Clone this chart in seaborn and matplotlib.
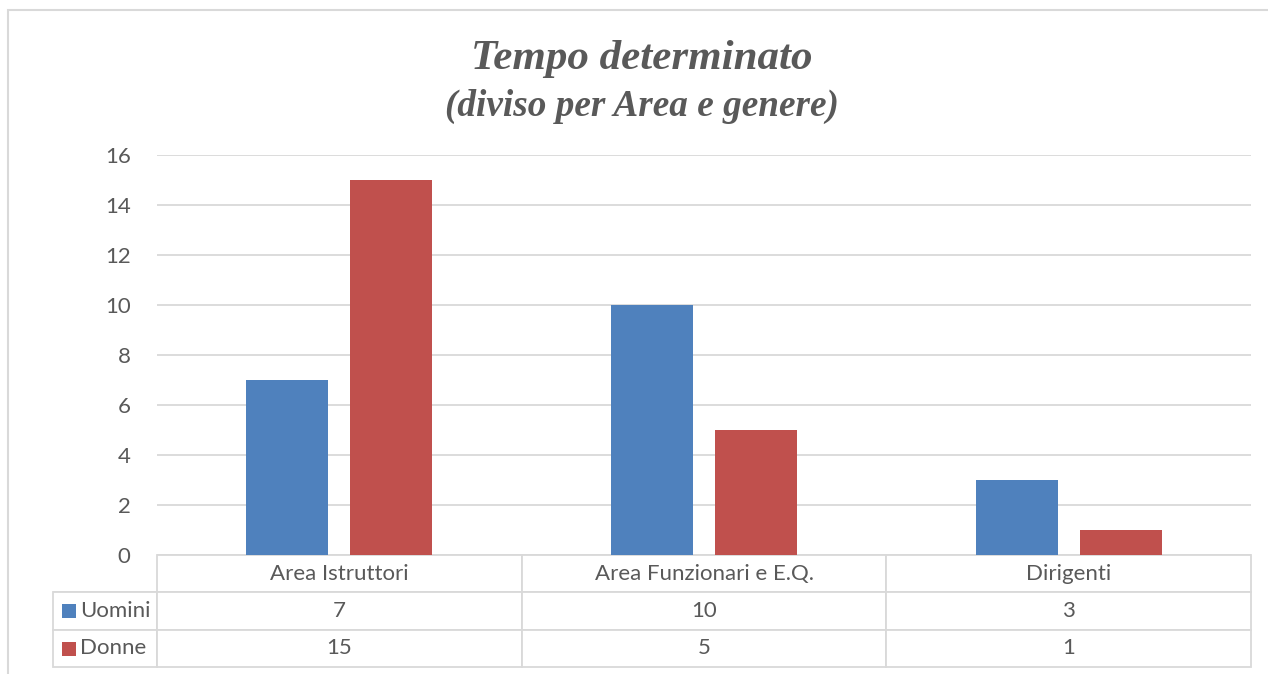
from matplotlib import pyplot as plt
from matplotlib.patches import Rectangle
import pandas as pd
import seaborn as sns

# dati del grafico
categorie = ['Area Istruttori', 'Area Funzionari e E.Q.', 'Dirigenti']
uomini = [7, 10, 3]
donne = [15, 5, 1]
serie = ['Uomini', 'Donne']
colori = ['#4F81BD', '#C0504D']
y_ticks = [0, 2, 4, 6, 8, 10, 12, 14, 16]

grigio = '#595959'
linea = '#D9D9D9'

df = pd.DataFrame({
    'area': categorie * 2,
    'genere': ['Uomini'] * len(categorie) + ['Donne'] * len(categorie),
    'valore': uomini + donne,
})

sns.set_style('white')
plt.rcParams['font.family'] = ['Lato', 'DejaVu Sans']

fig = plt.figure(figsize=(12.68, 6.74), dpi=100)
W, H = 1268, 674
ax = fig.add_axes([157 / W, 1 - 555 / H, (1251 - 157) / W, 400 / H])

sns.barplot(ax=ax, data=df, x='area', y='valore', hue='genere',
            hue_order=serie, palette=colori, width=0.57, gap=0.21,
            saturation=1, linewidth=0, legend=False)

ax.set_ylim(0, 16)
ax.set_xlim(-0.5, 2.5)
ax.set_yticks(y_ticks)
ax.set_xticks([])
ax.set_xlabel('')
ax.set_ylabel('')
ax.tick_params(axis='y', length=0, pad=19, labelsize=16, labelcolor=grigio)
ax.yaxis.grid(True, color=linea, linewidth=1.3)
ax.set_axisbelow(True)
for s in ax.spines.values():
    s.set_visible(False)

# tabella dati sotto il grafico
label_w = (157 - 53) / 1094
righe = [[''] + categorie]
for nome, vals in zip(serie, [uomini, donne]):
    righe.append([nome] + [str(v) for v in vals])

tab = ax.table(cellText=righe, cellLoc='center',
               colWidths=[label_w, 1 / 3, 1 / 3, 1 / 3],
               bbox=[-label_w, -112 / 400, 1 + label_w, 112 / 400])
tab.auto_set_font_size(False)
tab.set_fontsize(16)
for (r, c), cell in tab.get_celld().items():
    cell.set_edgecolor(linea)
    cell.set_linewidth(1.3)
    cell.get_text().set_color(grigio)
    if r == 0 and c == 0:
        cell.visible_edges = 'B'
    if c == 0 and r > 0:
        cell.get_text().set_horizontalalignment('left')
        cell._loc = 'left'
        cell.PAD = 0.26

# quadratini colorati della legenda
for i, col in enumerate(colori):
    ax.add_patch(Rectangle((-(157 - 62) / 1094, -(37.3 * (i + 1) + 13 + 13) / 400),
                           14 / 1094, 14 / 400, facecolor=col, edgecolor='none',
                           transform=ax.transAxes, clip_on=False))

# titolo
fig.text(642 / W, 1 - 59 / H, 'Tempo determinato', ha='center', va='center',
         fontsize=31, fontweight='bold', fontstyle='italic', color=grigio,
         family=['Liberation Serif', 'DejaVu Serif'])
fig.text(642 / W, 1 - 106 / H, '(diviso per Area e genere)', ha='center', va='center',
         fontsize=26.8, fontweight='bold', fontstyle='italic', color=grigio,
         family=['Liberation Serif', 'DejaVu Serif'])

# cornice esterna
fig.add_artist(Rectangle((8 / W, -0.05), 1.1, 1 - 10 / H + 0.05, transform=fig.transFigure,
                         facecolor='none', edgecolor=linea, linewidth=1.5))

fig.savefig('out.png', dpi=100)
